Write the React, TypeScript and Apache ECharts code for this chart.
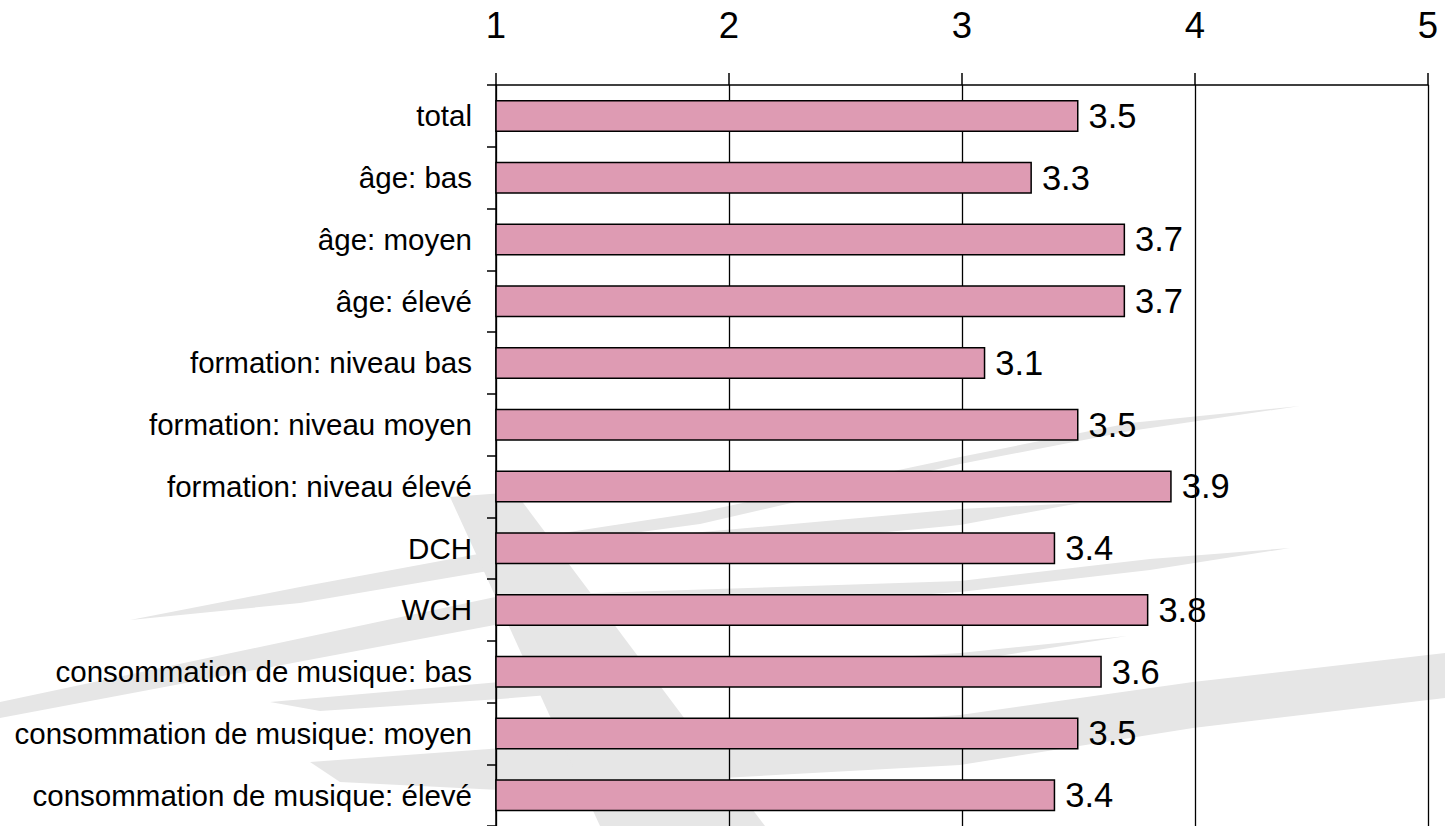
import React, { useEffect, useRef } from "react";
import * as echarts from "echarts";

const categories = [
  "total",
  "âge: bas",
  "âge: moyen",
  "âge: élevé",
  "formation: niveau bas",
  "formation: niveau moyen",
  "formation: niveau élevé",
  "DCH",
  "WCH",
  "consommation de musique: bas",
  "consommation de musique: moyen",
  "consommation de musique: élevé",
];
const values = [3.5, 3.3, 3.7, 3.7, 3.1, 3.5, 3.9, 3.4, 3.8, 3.6, 3.5, 3.4];
const axisMin = 1;
const axisMax = 5;
const axisStep = 1;

const FONT = "'Liberation Sans', Arial, Helvetica, sans-serif";
const GREY = "#e6e6e6";

const strokes: number[][][] = [
  [[530, 538], [700, 512], [960, 457], [1130, 423], [1300, 406], [1130, 431], [960, 464], [700, 524], [545, 545]],
  [[130, 620], [300, 587], [500, 550], [960, 509], [1080, 503], [960, 525], [500, 569], [300, 603]],
  [[0, 702], [500, 596], [960, 581], [1150, 559], [1290, 548], [1150, 570], [960, 592], [500, 624], [0, 718]],
  [[270, 702], [500, 682], [960, 653], [1127, 636], [960, 662], [500, 699], [320, 711]],
  [[310, 762], [960, 715], [1193, 682], [1445, 653], [1445, 698], [1193, 728], [960, 765], [500, 790], [340, 782]],
  [[450, 497], [515, 492], [765, 826], [600, 826]],
];

export default function App() {
  const ref = useRef<HTMLDivElement>(null);
  useEffect(() => {
    if (!ref.current) return;
    const chart = echarts.init(ref.current, null, { renderer: "svg" });
    chart.setOption({
      animation: false,
      backgroundColor: "#ffffff",
      graphic: strokes.map((pts) => ({
        type: "polygon",
        z: -100,
        silent: true,
        shape: { points: pts },
        style: { fill: GREY },
      })),
      grid: { left: 496, right: 17, top: 85, bottom: 0, containLabel: false },
      xAxis: {
        type: "value",
        position: "top",
        min: axisMin,
        max: axisMax,
        interval: axisStep,
        axisLine: { show: true, lineStyle: { color: "#000", width: 1.5 } },
        axisTick: { show: true, length: 12, lineStyle: { color: "#000", width: 1.5 } },
        axisLabel: { color: "#000", fontSize: 36.5, fontFamily: FONT, margin: 41 },
        splitLine: { show: true, lineStyle: { color: "#000", width: 1.3 } },
      },
      yAxis: {
        type: "category",
        inverse: true,
        data: categories,
        axisLine: { show: true, lineStyle: { color: "#000", width: 1.5 } },
        axisTick: { show: true, length: 9, lineStyle: { color: "#000", width: 1.5 } },
        axisLabel: { color: "#000", fontSize: 29.5, fontFamily: FONT, margin: 24 },
        splitLine: { show: false },
      },
      series: [
        {
          type: "bar",
          data: values,
          barWidth: 32,
          itemStyle: { color: "#DE9BB3", borderColor: "#000", borderWidth: 1.5 },
          label: {
            show: true,
            position: "right",
            distance: 10,
            color: "#000",
            fontSize: 34.5,
            fontFamily: FONT,
            formatter: (p: any) => p.value.toFixed(1),
          },
        },
      ],
    });
    return () => chart.dispose();
  }, []);
  return (
    <div
      ref={ref}
      style={{ position: "absolute", left: 0, top: 0, width: 1445, height: 826 }}
    />
  );
}
